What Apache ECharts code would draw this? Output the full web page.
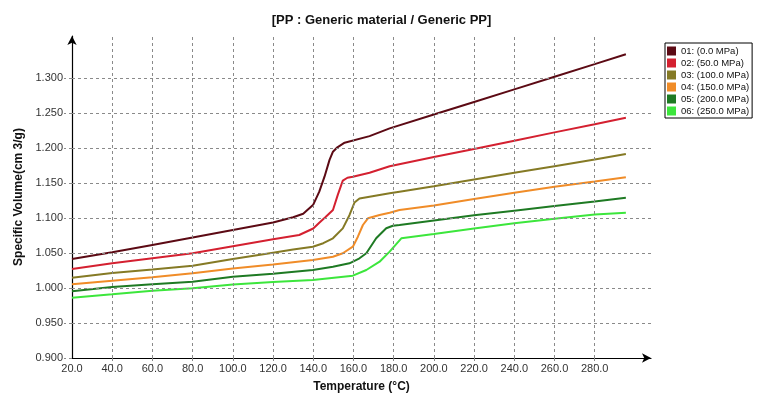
<!DOCTYPE html>
<html>
<head>
<meta charset="utf-8">
<title>PP specific volume</title>
<script src="https://cdn.jsdelivr.net/npm/echarts@6/dist/echarts.min.js"></script>
<style>
  html, body { margin: 0; padding: 0; background: #fff; }
  #chart { width: 763px; height: 413px; }
</style>
</head>
<body>
<div id="chart"></div>
<script>
// 数据
const seriesNames = ['01: (0.0 MPa)', '02: (50.0 MPa)', '03: (100.0 MPa)', '04: (150.0 MPa)', '05: (200.0 MPa)', '06: (250.0 MPa)'];
const seriesColors = ['#5c0a14', '#d42030', '#857a25', '#f08c28', '#1e7a23', '#3ce63c'];

const t01 = [20, 40, 60, 80, 100, 120, 130, 135, 140, 143, 145.6, 148.1, 149.8, 152, 155.6, 168, 178, 200, 220, 240, 260, 280, 295.5];
const v01 = [1.0414, 1.051, 1.0615, 1.072, 1.083, 1.0935, 1.101, 1.106, 1.119, 1.1376, 1.159, 1.183, 1.1947, 1.201, 1.2076, 1.217, 1.228, 1.2478, 1.2658, 1.2838, 1.3018, 1.3198, 1.334];

const t02 = [20, 40, 60, 80, 100, 120, 133, 140, 143, 146, 149.8, 152.2, 154.7, 157, 159.7, 168, 178, 200, 220, 240, 260, 280, 295.5];
const v02 = [1.0271, 1.0355, 1.0425, 1.0496, 1.0595, 1.0695, 1.0757, 1.085, 1.0933, 1.101, 1.1114, 1.133, 1.1533, 1.1575, 1.159, 1.1647, 1.174, 1.187, 1.1987, 1.2105, 1.2223, 1.234, 1.2433];

const t03 = [20, 40, 60, 80, 100, 120, 130, 139.8, 145, 149.8, 154.7, 158, 160.5, 163, 173, 178, 182.9, 200, 220, 240, 260, 280, 295.5];
const v03 = [1.0147, 1.0215, 1.0265, 1.0319, 1.0415, 1.0505, 1.055, 1.059, 1.064, 1.071, 1.0852, 1.104, 1.122, 1.128, 1.1329, 1.1353, 1.1376, 1.1455, 1.155, 1.1645, 1.174, 1.1835, 1.1914];

const t04 = [20, 40, 60, 80, 100, 120, 139.8, 149.8, 154.7, 159.7, 162.2, 164.7, 167.2, 173, 178, 182.9, 200, 220, 240, 260, 280, 295.5];
const v04 = [1.0052, 1.0105, 1.0155, 1.021, 1.028, 1.0335, 1.04, 1.0447, 1.0496, 1.059, 1.0733, 1.09, 1.0996, 1.1043, 1.1076, 1.1114, 1.118, 1.127, 1.136, 1.1445, 1.152, 1.1581];

const t05 = [20, 40, 60, 80, 100, 120, 139.8, 149.8, 158, 163, 166.4, 171.3, 176.3, 179.6, 182.9, 200, 220, 240, 260, 280, 295.5];
const v05 = [0.9952, 1.0015, 1.0055, 1.009, 1.016, 1.0205, 1.0257, 1.0304, 1.0353, 1.0424, 1.0496, 1.071, 1.0853, 1.089, 1.09, 1.0965, 1.104, 1.1105, 1.117, 1.1235, 1.129];

const t06 = [20, 40, 60, 80, 100, 120, 139.8, 159.7, 166.4, 173, 178, 183.8, 200, 220, 240, 260, 280, 295.5];
const v06 = [0.9862, 0.991, 0.996, 0.9995, 1.005, 1.0085, 1.0114, 1.0176, 1.0257, 1.0376, 1.052, 1.071, 1.077, 1.085, 1.0925, 1.099, 1.105, 1.1076];

// 刻度值
const xTicks = [20, 40, 60, 80, 100, 120, 140, 160, 180, 200, 220, 240, 260, 280];
const yTicks = [0.9, 0.95, 1.0, 1.05, 1.1, 1.15, 1.2, 1.25, 1.3];

const allT = [t01, t02, t03, t04, t05, t06];
const allV = [v01, v02, v03, v04, v05, v06];

const chart = echarts.init(document.getElementById('chart'), null, { renderer: 'canvas' });

const labelFont = 'Liberation Sans, Arial, sans-serif';
const gridStyle = { color: '#8a8a8a', type: [3, 3], width: 1 };

const series = seriesNames.map((name, i) => ({
  name: name,
  type: 'line',
  data: allT[i].map((t, k) => [t, allV[i][k]]),
  showSymbol: false,
  symbol: 'none',
  color: seriesColors[i],
  lineStyle: { width: 2, color: seriesColors[i] },
  animation: false,
  z: 3
}));

// 用 markLine 画虚线网格（轴端延伸部分不要网格）
series[0].markLine = {
  silent: true,
  symbol: ['none', 'none'],
  label: { show: false },
  animation: false,
  lineStyle: gridStyle,
  emphasis: { disabled: true },
  data: xTicks.filter(v => v > 20).map(v => ({ xAxis: v }))
    .concat(yTicks.filter(v => v > 0.9).map(v => ({ yAxis: v })))
};

const option = {
  backgroundColor: '#fff',
  animation: false,
  title: {
    text: '[PP : Generic material / Generic PP]',
    left: 'center',
    top: 9,
    textStyle: { fontFamily: labelFont, fontSize: 13, fontWeight: 'bold', color: '#111' }
  },
  legend: {
    orient: 'vertical',
    left: 665,
    top: 43,
    itemWidth: 9,
    itemHeight: 9,
    itemGap: 2,
    icon: 'rect',
    padding: [3, 3, 2, 2],
    borderColor: '#000',
    borderWidth: 1,
    backgroundColor: '#fff',
    textStyle: { fontFamily: labelFont, fontSize: 9.5, color: '#111' },
    data: seriesNames
  },
  grid: { left: 72, right: 112, top: 36, bottom: 55, containLabel: false },
  xAxis: {
    type: 'value',
    min: 20,
    max: 308,
    interval: 20,
    name: 'Temperature (°C)',
    nameLocation: 'middle',
    nameGap: 23,
    nameTextStyle: { fontFamily: labelFont, fontSize: 12, fontWeight: 'bold', color: '#111' },
    axisLine: { show: true, lineStyle: { color: '#000', width: 1.2 }, symbol: ['none', 'arrow'], symbolSize: [7, 9] },
    axisTick: { show: true, customValues: xTicks.filter(v => v > 20), length: 8, lineStyle: gridStyle },
    splitLine: { show: false },
    axisLabel: {
      margin: 5,
      fontFamily: labelFont,
      fontSize: 11,
      color: '#333',
      formatter: v => (v <= 280 && v % 20 === 0) ? v.toFixed(1) : ''
    }
  },
  yAxis: {
    type: 'value',
    min: 0.9,
    max: 1.36,
    interval: 0.05,
    name: 'Specific Volume(cm 3/g)',
    nameLocation: 'middle',
    nameGap: 36,
    nameTextStyle: { fontFamily: labelFont, fontSize: 12, fontWeight: 'bold', color: '#111' },
    axisLine: { show: true, lineStyle: { color: '#000', width: 1.2 }, symbol: ['none', 'arrow'], symbolSize: [7, 9] },
    axisTick: { show: true, customValues: yTicks, length: 8, lineStyle: gridStyle },
    splitLine: { show: false },
    axisLabel: {
      margin: 9,
      fontFamily: labelFont,
      fontSize: 11,
      color: '#333',
      formatter: v => (v <= 1.3001) ? v.toFixed(3) : ''
    }
  },
  series: series
};

chart.setOption(option);
</script>
</body>
</html>
